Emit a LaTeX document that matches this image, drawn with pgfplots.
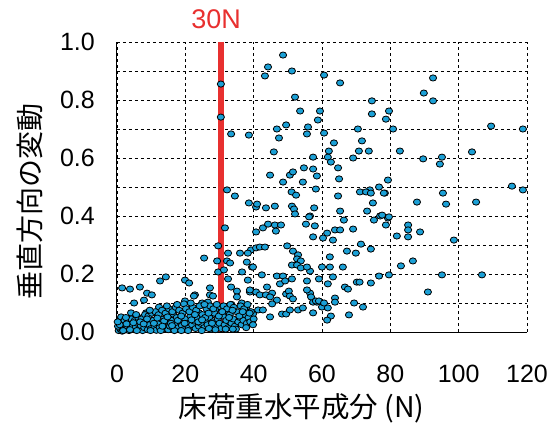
\documentclass[border=0pt]{standalone}
\usepackage{pgfplots}
\pgfplotsset{compat=1.18}
\usepackage{fontspec}
\setmainfont{Liberation Sans}
\newfontfamily\jp{Noto Sans CJK JP}
\definecolor{dotblue}{RGB}{27,160,214}
\definecolor{linered}{RGB}{232,48,47}
\begin{document}
\begin{tikzpicture}
\path[use as bounding box] (-117pt,-94pt) rectangle (438pt,332pt);
\begin{axis}[
  at={(0pt,0pt)}, anchor=south west,
  scale only axis, width=410pt, height=290pt,
  xmin=0, xmax=120, ymin=0, ymax=1,
  xtick={0,20,...,120},
  ytick={0,0.2,0.4,0.6,0.8,1.0},
  minor ytick={0.1,0.3,0.5,0.7,0.9},
  yticklabels={0.0,0.2,0.4,0.6,0.8,1.0},
  grid=both,
  major grid style={dashed, black, line width=0.6pt},
  minor grid style={dashed, black, line width=0.6pt},
  axis x line=bottom, axis y line=left,
  axis line style={-, black, line width=1pt},
  tick style={draw=none},
  /pgf/number format/assume math mode=true,
  tick label style={font=\fontsize{25}{29}\selectfont},
  xticklabel style={yshift=-27pt},
  yticklabel style={xshift=-16.5pt},
  xlabel={\jp 床荷重水平成分 (N)},
  ylabel={\jp 垂直方向の変動},
  xlabel style={font=\fontsize{28.5}{32}\selectfont, at={(axis description cs:0.45,-0.262)}, anchor=center},
  ylabel style={font=\fontsize{28}{32}\selectfont, at={(axis description cs:-0.212,0.45)}, anchor=center},
  clip=false,
]
\addplot[only marks, mark=*, mark size=3.6pt,
  mark options={fill=dotblue, draw=black, line width=0.8pt, yscale=0.86}]
table {
x y
48.6 0.955
44.2 0.914
51.2 0.900
43.3 0.883
52.1 0.810
53.6 0.762
59.4 0.762
58.8 0.731
49.5 0.714
46.8 0.700
55.9 0.707
55.6 0.683
47.4 0.669
45.9 0.621
57.4 0.603
44.8 0.541
50.6 0.541
51.5 0.552
54.7 0.566
57.4 0.562
58.5 0.538
48.6 0.517
54.4 0.517
58.2 0.493
30.4 0.855
30.4 0.741
33.4 0.683
38.6 0.679
32.2 0.490
60.6 0.886
65.3 0.859
92.5 0.876
89.8 0.824
92.5 0.797
74.6 0.797
74.6 0.752
79.6 0.762
78.7 0.734
70.5 0.700
80.8 0.700
60.6 0.686
109.5 0.710
118.8 0.700
63.5 0.652
71.7 0.659
70.8 0.624
73.7 0.624
62.0 0.624
82.8 0.624
61.7 0.603
69.1 0.600
62.6 0.586
89.6 0.597
95.1 0.603
94.5 0.579
103.9 0.621
64.7 0.566
65.0 0.528
79.3 0.524
76.7 0.500
115.6 0.503
118.8 0.490
74.0 0.490
95.4 0.479
78.4 0.479
87.8 0.448
96.3 0.441
105.1 0.448
79.3 0.393
78.7 0.369
85.2 0.369
85.2 0.352
88.7 0.345
81.9 0.331
85.2 0.328
98.6 0.317
83.1 0.228
86.6 0.245
79.6 0.197
95.1 0.197
106.8 0.197
91.0 0.138
64.7 0.469
71.1 0.483
72.9 0.483
74.3 0.479
78.1 0.479
74.9 0.445
57.7 0.428
65.3 0.417
56.5 0.400
66.4 0.386
73.2 0.417
75.2 0.386
77.0 0.400
77.6 0.403
79.6 0.397
57.9 0.366
63.8 0.352
65.3 0.352
69.1 0.355
61.5 0.341
57.4 0.328
60.3 0.324
63.2 0.317
71.4 0.303
74.3 0.286
67.3 0.279
69.9 0.272
62.3 0.259
60.0 0.224
62.3 0.224
66.1 0.224
56.5 0.210
63.2 0.190
59.1 0.183
76.7 0.193
61.7 0.166
70.2 0.172
71.0 0.172
74.3 0.169
66.7 0.155
67.6 0.148
56.5 0.134
57.4 0.103
58.5 0.103
63.8 0.117
63.8 0.103
69.4 0.100
72.0 0.086
57.4 0.066
60.0 0.086
61.7 0.083
67.9 0.059
62.6 0.055
61.5 0.041
51.1 0.483
52.4 0.472
40.7 0.431
43.6 0.428
46.2 0.434
51.2 0.434
51.8 0.424
52.1 0.407
56.2 0.397
40.7 0.345
42.7 0.359
44.2 0.372
46.2 0.369
48.0 0.369
46.5 0.348
55.3 0.372
39.2 0.283
40.7 0.290
41.8 0.293
43.3 0.293
49.8 0.297
51.5 0.279
53.0 0.266
52.7 0.252
53.8 0.245
51.2 0.231
52.7 0.231
53.8 0.221
55.6 0.224
39.5 0.224
42.4 0.197
46.8 0.193
48.6 0.193
47.7 0.166
49.2 0.176
51.2 0.183
55.6 0.176
38.9 0.138
40.7 0.138
41.8 0.128
43.9 0.155
45.4 0.134
43.6 0.128
44.8 0.121
49.5 0.131
50.3 0.141
50.6 0.124
51.5 0.114
55.6 0.145
56.8 0.121
58.2 0.107
59.1 0.107
60.6 0.100
46.8 0.110
45.4 0.097
41.3 0.076
42.7 0.076
39.8 0.062
44.8 0.052
48.3 0.062
49.5 0.062
50.6 0.076
53.0 0.076
54.4 0.083
38.9 0.041
34.5 0.469
38.6 0.445
41.0 0.441
31.6 0.359
29.6 0.297
25.5 0.255
29.3 0.245
32.5 0.272
32.2 0.245
33.1 0.238
36.0 0.272
38.3 0.272
38.0 0.241
39.8 0.224
29.6 0.207
31.3 0.214
36.6 0.207
32.5 0.183
38.3 0.179
33.4 0.155
35.1 0.141
35.1 0.121
38.9 0.145
12.6 0.176
14.3 0.190
19.9 0.179
21.1 0.169
1.5 0.152
3.8 0.148
6.7 0.155
8.8 0.134
10.2 0.128
27.2 0.152
27.2 0.128
22.8 0.128
24.9 0.100
26.6 0.103
19.9 0.107
7.9 0.110
5.0 0.100
12.3 0.086
1.2 0.052
4.1 0.066
8.5 0.066
10.5 0.066
16.4 0.062
21.9 0.076
24.0 0.066
29.6 0.086
26.6 0.066
27.8 0.059
19.6 0.097
22.5 0.124
28.1 0.124
28.7 0.076
31.6 0.072
33.5 0.095
36.5 0.100
37.8 0.085
0.5 0.005
1.0 0.010
1.5 0.003
2.0 0.015
2.5 0.008
3.0 0.020
3.5 0.005
4.0 0.012
4.5 0.025
5.0 0.008
5.5 0.018
6.0 0.030
6.5 0.010
7.0 0.022
7.5 0.005
8.0 0.015
8.5 0.035
9.0 0.008
9.5 0.025
10.0 0.012
10.5 0.040
11.0 0.020
11.5 0.006
12.0 0.030
12.5 0.015
13.0 0.045
13.5 0.010
14.0 0.025
14.5 0.035
15.0 0.008
15.5 0.020
16.0 0.040
16.5 0.012
17.0 0.028
17.5 0.050
18.0 0.015
18.5 0.035
19.0 0.022
19.5 0.008
20.0 0.045
20.5 0.030
21.0 0.015
21.5 0.055
22.0 0.025
22.5 0.038
23.0 0.012
23.5 0.048
24.0 0.020
24.5 0.030
25.0 0.060
25.5 0.015
26.0 0.040
26.5 0.025
27.0 0.050
27.5 0.010
28.0 0.035
28.5 0.065
29.0 0.020
29.5 0.045
30.0 0.030
30.5 0.012
31.0 0.055
31.5 0.025
32.0 0.040
32.5 0.015
33.0 0.060
33.5 0.030
34.0 0.045
34.5 0.020
35.0 0.070
35.5 0.035
36.0 0.050
36.5 0.025
37.0 0.040
37.5 0.060
38.0 0.030
38.5 0.050
39.0 0.035
40.0 0.045
0.3 0.020
1.2 0.030
2.2 0.040
3.2 0.035
4.2 0.045
5.2 0.040
6.2 0.050
7.2 0.045
8.2 0.060
9.2 0.055
10.2 0.065
11.2 0.070
12.2 0.060
13.2 0.075
14.2 0.065
15.2 0.080
16.2 0.070
17.2 0.085
18.2 0.075
19.2 0.065
20.2 0.080
21.2 0.070
22.2 0.085
23.2 0.075
24.2 0.090
26.2 0.080
27.2 0.090
28.2 0.080
29.2 0.095
31.2 0.090
32.2 0.080
33.2 0.095
34.2 0.085
36.2 0.090
37.2 0.080
38.2 0.095
39.2 0.070
0.8 0.025
1.8 0.005
2.8 0.028
3.8 0.008
4.8 0.032
5.8 0.005
6.8 0.035
7.8 0.028
8.8 0.045
9.8 0.005
10.8 0.030
11.8 0.048
12.8 0.005
13.8 0.038
14.8 0.052
15.8 0.030
16.8 0.005
17.8 0.040
18.8 0.055
19.8 0.030
20.8 0.005
21.8 0.042
22.8 0.060
23.8 0.035
24.8 0.005
25.8 0.050
26.8 0.065
27.8 0.030
28.8 0.008
29.8 0.055
30.8 0.070
31.8 0.010
32.8 0.050
33.8 0.075
34.8 0.010
35.8 0.055
36.8 0.070
37.8 0.015
38.8 0.065
39.8 0.025
0.2 0.035
2.6 0.050
5.6 0.060
9.6 0.075
14.6 0.090
17.6 0.095
21.6 0.100
25.6 0.095
18.8 0.005
13.3 0.020
16.1 0.022
24.9 0.042
26.9 0.012
33.9 0.010
};
\addplot[linered, line width=5.5pt] coordinates {(30.4,0) (30.4,1)};
\node[text=linered, font=\fontsize{27}{31}\selectfont, anchor=center] at (axis cs:29.0,1.078) {30N};
\end{axis}
\end{tikzpicture}
\end{document}
